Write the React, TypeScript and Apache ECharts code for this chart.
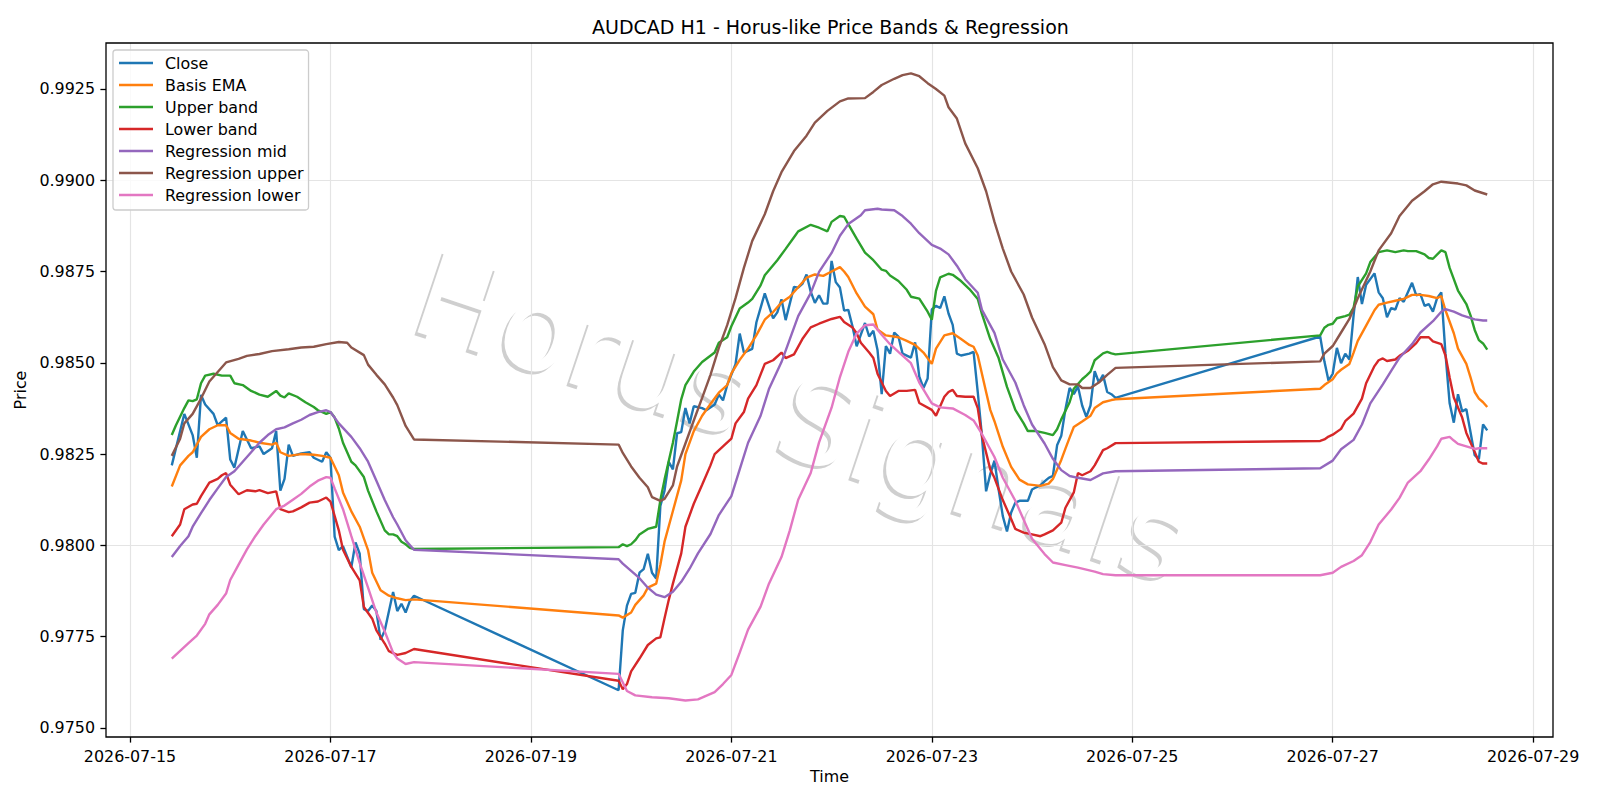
import React, { useEffect, useRef } from "react";
import * as echarts from "echarts";

// hours since 2026-07-15 00:00 (UTC)
const START_UTC = Date.UTC(2026, 6, 15);
const xTickHours = [0, 48, 96, 144, 192, 240, 288, 336];
const yTicks = [0.975, 0.9775, 0.98, 0.9825, 0.985, 0.9875, 0.99, 0.9925];

const closeH = [10,13,15,16,17,18,20,21,23,24,25,27,29,31,32,34,35,36,37,38,39,41,43,44,46,47,48,49,50,51,53,54,55,56,57,58,59,60,61,63,64,65,66,67,68,
  117,118,119,120,121,122,123,124,125,126,127,128,129,130,131,132,133,134,135,137,138,140,141,142,143,145,146,147,149,150,152,154,155,156,157,159,160,161,162,163,164,165,166,167,168,169,170,171,172,173,174,176,177,178,179,180,181,182,183,184,185,187,188,189,190,191,192,193,194,195,196,197,198,199,201,202,203,204,205,206,207,208,209,210,211,212,213,215,216,217,218,219,220,221,222,223,224,225,226,227,228,229,230,231,232,233,234,235,236,
  285,286,287,288,289,290,291,292,293,294,295,296,298,299,300,301,302,303,304,305,307,308,309,310,311,312,313,314,315,316,317,318,319,320,321,322,323,324,325];
const closeV = [0.98219,0.9836,0.98302,0.9824,0.98412,0.98386,0.9836,0.98329,0.9835,0.98235,0.98213,0.98313,0.98266,0.98271,0.9825,0.98266,0.98313,0.9815,0.98182,0.98276,0.98245,0.98252,0.98255,0.9824,0.98229,0.98255,0.9824,0.98024,0.97987,0.97998,0.9794,0.98008,0.97977,0.97825,0.9782,0.97835,0.9782,0.97741,0.97767,0.97872,0.9782,0.9784,0.97816,0.97847,0.97862,
  0.97603,0.97767,0.97835,0.97867,0.9787,0.97925,0.97935,0.97977,0.97925,0.97909,0.98108,0.9815,0.98229,0.98208,0.98307,0.9831,0.98376,0.98334,0.98381,0.98376,0.9837,0.98386,0.98413,0.98397,0.98439,0.98496,0.9858,0.98528,0.98538,0.98611,0.9869,0.98622,0.98638,0.98674,0.98617,0.98708,0.98706,0.98716,0.98742,0.98695,0.98664,0.98685,0.98662,0.98662,0.98779,0.98721,0.98706,0.98643,0.98645,0.986,0.98545,0.98609,0.98572,0.98588,0.98535,0.98414,0.98546,0.98525,0.98583,0.98572,0.98525,0.98514,0.98556,0.98462,0.98431,0.98457,0.98646,0.98656,0.9865,0.98682,0.98635,0.98604,0.98525,0.9852,0.98525,0.9853,0.9842,0.983,0.98148,0.98195,0.98232,0.98153,0.9808,0.98038,0.9809,0.98117,0.98122,0.98122,0.98153,0.98159,0.98164,0.98175,0.98185,0.9819,0.98274,0.983,0.98373,0.98431,0.98414,0.98435,0.98383,0.98352,0.98383,0.98477,0.98446,0.98467,0.9842,0.98414,0.98404,
  0.98572,0.98504,0.98451,0.9847,0.98541,0.98499,0.98525,0.98509,0.9863,0.98735,0.98661,0.98714,0.98745,0.98693,0.98677,0.98625,0.9865,0.98646,0.98677,0.98667,0.98719,0.98685,0.98688,0.98656,0.98661,0.9864,0.98677,0.98693,0.98525,0.98389,0.98336,0.98414,0.98367,0.98373,0.9831,0.98247,0.98236,0.98331,0.98315];

const emaH = [10,12,14,15,17,19,21,23,24,26,29,31,34,35,36,38,41,44,46,48,50,51,53,55,57,58,60,62,64,66,68,
  117,118,120,121,123,124,126,127,128,130,132,133,135,137,139,141,143,144,146,148,150,152,154,156,158,160,162,164,166,168,170,171,172,174,176,178,179,181,184,186,188,190,192,193,195,197,199,201,202,203,204,205,206,207,209,211,213,215,218,220,221,223,224,225,226,228,230,231,233,235,236,
  285,286,288,289,290,292,293,294,296,298,299,301,303,305,307,309,311,313,314,315,317,318,320,321,322,323,324,325];
const emaV = [0.98161,0.98219,0.98245,0.98255,0.98297,0.98318,0.98329,0.98329,0.98308,0.98292,0.98287,0.98281,0.98276,0.98281,0.98255,0.98245,0.9825,0.98248,0.98245,0.9824,0.98192,0.98145,0.98093,0.98051,0.97987,0.97925,0.97877,0.97862,0.97855,0.9785,0.97852,
  0.97808,0.97802,0.97816,0.97837,0.97863,0.97884,0.97895,0.97947,0.9801,0.98094,0.98178,0.9825,0.98313,0.98355,0.98387,0.98418,0.98439,0.98471,0.98508,0.98539,0.98576,0.98618,0.98639,0.98665,0.98681,0.98707,0.98733,0.98742,0.98738,0.9875,0.98762,0.9875,0.98735,0.9869,0.98654,0.98633,0.98591,0.98575,0.9857,0.9856,0.98549,0.98528,0.98497,0.98539,0.98575,0.98581,0.98565,0.98549,0.98544,0.9852,0.9847,0.9842,0.98371,0.9834,0.9827,0.98215,0.9818,0.98167,0.98163,0.98169,0.98182,0.98234,0.98265,0.98295,0.98324,0.98339,0.98355,0.98376,0.98392,0.98398,0.984,
  0.98429,0.98439,0.98455,0.98471,0.98481,0.98497,0.98528,0.9856,0.98602,0.98644,0.98659,0.98665,0.9867,0.98675,0.98686,0.98686,0.98683,0.98677,0.98683,0.98644,0.98581,0.98539,0.98497,0.9846,0.9842,0.98402,0.98392,0.98379];

const upperH = [10,11,13,14,15,16,17,18,20,22,24,25,27,29,31,33,35,36,37,38,40,42,44,45,47,48,49,50,51,53,54,56,57,59,61,62,63,64,65,66,67,68,
  117,118,119,120,121,122,124,126,127,128,130,131,132,133,135,137,140,141,143,144,146,148,149,151,152,155,157,159,160,163,165,167,168,170,171,172,174,176,178,180,181,182,184,186,187,189,191,192,193,194,196,197,199,201,203,204,206,208,210,212,214,215,217,219,221,222,223,225,226,228,229,230,231,233,234,235,236,
  285,286,287,288,289,291,292,293,294,296,297,299,301,303,305,306,308,310,311,312,314,315,316,317,318,320,321,322,323,324,325];
const upperV = [0.98302,0.98329,0.98376,0.98397,0.98395,0.984,0.98444,0.98465,0.9847,0.98465,0.98465,0.98444,0.98439,0.98423,0.98413,0.98407,0.98423,0.9841,0.98405,0.98416,0.98407,0.98392,0.98379,0.9837,0.9836,0.98365,0.9835,0.9832,0.98281,0.98229,0.98219,0.98187,0.9815,0.98093,0.98041,0.9803,0.9803,0.98025,0.9801,0.98003,0.97993,0.9799,
  0.97995,0.98003,0.97998,0.98003,0.98014,0.9803,0.98045,0.98051,0.98124,0.9818,0.98281,0.9834,0.984,0.98439,0.98476,0.98502,0.98528,0.98555,0.9857,0.986,0.98649,0.98665,0.98675,0.98712,0.9874,0.98781,0.98812,0.98844,0.9886,0.98878,0.9887,0.9886,0.98886,0.98902,0.989,0.9888,0.9884,0.98802,0.98781,0.98755,0.98752,0.98739,0.98724,0.987,0.98681,0.98676,0.9864,0.98618,0.98697,0.98734,0.98744,0.98741,0.98724,0.98702,0.98675,0.98634,0.98565,0.98513,0.98434,0.98371,0.98334,0.98313,0.98313,0.98308,0.98302,0.98318,0.98345,0.98392,0.98429,0.98455,0.98465,0.98476,0.98507,0.98526,0.9853,0.98526,0.98523,
  0.98575,0.98596,0.98604,0.98607,0.98622,0.98628,0.98632,0.98651,0.98709,0.98745,0.98776,0.98803,0.98808,0.98803,0.98808,0.98806,0.98806,0.98797,0.98787,0.98785,0.98808,0.98803,0.9876,0.98729,0.98698,0.98661,0.9863,0.9859,0.98562,0.98553,0.98536];

const lowerH = [10,12,13,15,16,17,19,21,22,23,24,26,28,30,31,33,35,36,38,39,41,43,45,47,48,50,51,53,55,56,58,59,61,62,63,64,66,68,
  117,118,119,120,122,124,126,127,128,129,130,132,133,135,137,139,140,142,144,145,147,148,150,152,154,156,157,159,161,163,165,168,170,171,173,174,175,177,178,179,181,182,184,186,188,189,192,193,195,196,197,198,200,202,203,204,206,207,209,211,212,214,216,218,219,221,223,224,226,227,228,230,231,233,234,236,
  285,286,287,288,290,291,293,295,296,298,299,300,301,303,304,306,308,309,311,312,314,315,316,317,319,320,322,323,324,325];
const lowerV = [0.98025,0.98057,0.98099,0.98112,0.98114,0.98135,0.98172,0.98182,0.98192,0.98198,0.98166,0.9814,0.98151,0.98148,0.98151,0.98143,0.98148,0.98099,0.98091,0.98093,0.98104,0.98117,0.9812,0.98131,0.9812,0.98041,0.97988,0.97941,0.97904,0.97831,0.97799,0.97767,0.97731,0.9771,0.97705,0.977,0.97705,0.97716,
  0.97629,0.97606,0.9762,0.97655,0.9769,0.97727,0.97745,0.97748,0.978,0.9785,0.97895,0.97978,0.98051,0.98114,0.98166,0.98219,0.9825,0.98271,0.98292,0.98334,0.98365,0.98402,0.98439,0.98497,0.98507,0.98528,0.98513,0.98523,0.98565,0.98597,0.98607,0.9862,0.98626,0.98612,0.98597,0.98581,0.98555,0.98528,0.98513,0.9847,0.98423,0.98409,0.98423,0.98423,0.98426,0.9839,0.98371,0.98355,0.98407,0.9842,0.98426,0.98409,0.98407,0.98407,0.98376,0.983,0.98208,0.98185,0.98124,0.98072,0.98045,0.98035,0.9803,0.98025,0.9803,0.98041,0.98062,0.98103,0.98145,0.98198,0.98192,0.98203,0.98219,0.98261,0.98266,0.9828,
  0.98286,0.9829,0.98298,0.98303,0.98319,0.9834,0.98361,0.98402,0.98444,0.98491,0.98507,0.98512,0.98505,0.98509,0.98519,0.98533,0.98554,0.9857,0.9857,0.98559,0.98551,0.9852,0.9846,0.98405,0.9835,0.98308,0.98256,0.98229,0.98224,0.98224];

const regMidH = [10,12,14,15,17,19,21,23,25,27,29,31,33,35,37,39,41,43,45,47,48,50,53,55,57,59,61,63,64,66,68,
  117,118,120,122,124,126,128,130,132,134,136,139,141,144,146,148,151,153,156,158,160,163,165,168,170,172,175,176,179,180,183,185,187,189,192,194,196,198,200,203,204,207,209,212,214,216,219,221,223,225,227,230,233,236,
  285,288,290,293,295,297,300,302,304,307,309,312,314,315,317,319,322,324,325];
const regMidV = [0.97968,0.97998,0.98025,0.98051,0.98088,0.98124,0.98156,0.98187,0.98203,0.98229,0.98255,0.98281,0.98302,0.98318,0.98323,0.98334,0.98344,0.98357,0.98365,0.9837,0.98365,0.98334,0.98297,0.98266,0.98229,0.98177,0.98124,0.98077,0.98057,0.98014,0.97988,
  0.97962,0.9795,0.9793,0.9791,0.97884,0.97865,0.97858,0.97873,0.979,0.97936,0.97978,0.98031,0.98083,0.98135,0.98208,0.98281,0.98355,0.98428,0.98502,0.98565,0.98628,0.98691,0.98749,0.98801,0.98848,0.9888,0.98904,0.98918,0.98922,0.9892,0.98918,0.98902,0.98881,0.98855,0.98823,0.98813,0.98797,0.98766,0.98729,0.98692,0.98645,0.98582,0.98509,0.98446,0.98384,0.98331,0.98279,0.98237,0.98206,0.9819,0.98185,0.98179,0.98197,0.98203,
  0.98211,0.98232,0.98263,0.98289,0.98331,0.98389,0.98441,0.98478,0.98514,0.98551,0.98583,0.98614,0.9864,0.98647,0.9864,0.9863,0.98619,0.98616,0.98616];

const regUpH = [10,12,13,15,17,19,21,23,26,28,31,34,38,41,44,47,50,52,53,56,57,59,61,63,64,66,68,
  117,118,120,122,124,125,127,128,130,131,133,135,137,139,141,143,145,147,149,152,154,156,159,162,164,167,170,172,176,178,180,183,185,187,189,191,193,195,196,198,200,203,205,207,209,211,214,216,219,221,223,225,227,228,230,232,234,236,
  285,286,288,290,292,294,297,299,302,304,307,310,312,314,318,320,322,325];
const regUpV = [0.98245,0.98292,0.98334,0.9836,0.98402,0.98449,0.98475,0.98501,0.98511,0.98519,0.98524,0.98532,0.98537,0.98542,0.98544,0.98551,0.98557,0.98555,0.98542,0.98521,0.98495,0.98467,0.98441,0.98405,0.98384,0.98327,0.9829,
  0.98276,0.98253,0.98216,0.98185,0.98159,0.98132,0.98122,0.98127,0.98164,0.98216,0.98279,0.98342,0.98404,0.98467,0.98541,0.98603,0.98677,0.9876,0.98834,0.98907,0.9897,0.99022,0.9908,0.99122,0.99158,0.9919,0.99216,0.99224,0.99225,0.99242,0.99261,0.99278,0.99288,0.99293,0.99285,0.99266,0.9925,0.99232,0.992,0.99169,0.99101,0.99033,0.9897,0.98886,0.98813,0.9875,0.98687,0.98624,0.98551,0.98488,0.98452,0.98441,0.98441,0.98431,0.98431,0.98446,0.98467,0.98486,
  0.98504,0.98525,0.98546,0.98583,0.9862,0.98677,0.9875,0.98808,0.98855,0.98902,0.98944,0.9897,0.98989,0.98996,0.98991,0.98986,0.98972,0.98961];

const regLowH = [10,12,14,16,18,19,21,23,24,26,28,30,32,35,37,39,41,43,45,47,48,49,51,53,55,57,59,61,63,64,66,68,
  117,119,121,125,129,133,136,140,142,144,146,148,151,153,156,158,160,163,165,168,170,172,174,176,178,180,182,184,187,189,192,194,197,200,202,204,207,209,212,214,216,219,221,224,227,231,233,236,
  285,288,290,293,295,297,299,302,304,306,309,311,313,314,316,317,318,320,322,323,325];
const regLowV = [0.9769,0.97711,0.97732,0.97753,0.97785,0.97811,0.97837,0.97868,0.97905,0.97947,0.97989,0.98025,0.98057,0.98099,0.98109,0.98125,0.98141,0.98161,0.98177,0.98187,0.98185,0.98156,0.98099,0.98025,0.97952,0.97884,0.97816,0.97764,0.97706,0.9769,0.97675,0.9768,
  0.97648,0.97601,0.97589,0.97584,0.97581,0.97575,0.97578,0.97598,0.9762,0.97645,0.97706,0.97769,0.97832,0.97895,0.97968,0.98041,0.98125,0.98198,0.98282,0.98377,0.98461,0.9853,0.9858,0.98603,0.98605,0.98577,0.98551,0.9853,0.98499,0.98446,0.98389,0.98378,0.98375,0.98357,0.98342,0.98305,0.98242,0.98185,0.98122,0.9807,0.98018,0.97976,0.97953,0.97946,0.97939,0.97928,0.97921,0.97918,
  0.97918,0.97925,0.97941,0.97957,0.97973,0.98009,0.98057,0.98098,0.9813,0.98172,0.98203,0.98235,0.98271,0.98292,0.98297,0.98287,0.98278,0.98271,0.98264,0.98266,0.98266];

const seriesNames = ["Close", "Basis EMA", "Upper band", "Lower band", "Regression mid", "Regression upper", "Regression lower"];
const seriesColors = ["#1f77b4", "#ff7f0e", "#2ca02c", "#d62728", "#9467bd", "#8c564b", "#e377c2"];
const seriesHours = [closeH, emaH, upperH, lowerH, regMidH, regUpH, regLowH];
const seriesValues = [closeV, emaV, upperV, lowerV, regMidV, regUpV, regLowV];

const FONT = "DejaVu Sans";
const WATERMARK = "Horus Signals";

function zip(h: number[], v: number[]) {
  return h.map((x, i) => [x, v[i]]);
}

function hourLabel(h: number) {
  return new Date(START_UTC + h * 3600000).toISOString().slice(0, 10);
}

export default function App() {
  const ref = useRef<HTMLDivElement>(null);
  useEffect(() => {
    if (!ref.current) return;
    const chart = echarts.init(ref.current, undefined, { renderer: "svg" });
    const lineSeries = seriesNames.map((name, i) => ({
      name,
      type: "line",
      data: zip(seriesHours[i], seriesValues[i]),
      showSymbol: false,
      symbol: "none",
      z: 3,
      lineStyle: { color: seriesColors[i], width: 2.4 },
      itemStyle: { color: seriesColors[i] },
    }));
    const gridSeries = {
      name: "_grid",
      type: "line",
      data: [],
      z: 1,
      markLine: {
        silent: true,
        z: 1,
        symbol: ["none", "none"],
        label: { show: false },
        lineStyle: { color: "#e4e4e4", width: 1.2, type: "solid" },
        emphasis: { disabled: true },
        data: [
          ...xTickHours.map((h) => ({ xAxis: h })),
          ...yTicks.map((v) => ({ yAxis: v })),
        ],
      },
    };
    const rot = (-18.5 * Math.PI) / 180;
    const wmFont = `normal 118px "${FONT}"`;
    chart.setOption({
      animation: false,
      backgroundColor: "#ffffff",
      title: {
        text: "AUDCAD H1 - Horus-like Price Bands & Regression",
        left: 592,
        top: 17,
        padding: 0,
        textStyle: { fontFamily: FONT, fontSize: 19, fontWeight: "normal", color: "#000", lineHeight: 19 },
      },
      legend: {
        data: seriesNames,
        orient: "vertical",
        left: 113,
        top: 50,
        padding: [4, 5, 6, 6],
        itemGap: 4,
        itemWidth: 34,
        itemHeight: 2.4,
        icon: "rect",
        backgroundColor: "rgba(255,255,255,0.8)",
        borderColor: "#cccccc",
        borderWidth: 1.3,
        borderRadius: 3,
        textStyle: { fontFamily: FONT, fontSize: 15.9, color: "#000", lineHeight: 18, padding: [0, 0, 0, 7] },
        z: 10,
      },
      graphic: [
        {
          type: "text",
          x: 799,
          y: 421,
          rotation: rot,
          z: 0,
          silent: true,
          style: { text: WATERMARK, font: wmFont, fill: "#cfcfcf", align: "center", verticalAlign: "middle" },
        },
        {
          type: "text",
          x: 802,
          y: 418,
          rotation: rot,
          z: 0,
          silent: true,
          style: { text: WATERMARK, font: wmFont, fill: "#ffffff", align: "center", verticalAlign: "middle" },
        },
      ],
      grid: {
        left: 106,
        right: 47,
        top: 43,
        bottom: 63,
        show: true,
        borderColor: "#000",
        borderWidth: 1.3,
        backgroundColor: "transparent",
        z: 5,
      },
      xAxis: {
        type: "value",
        min: -5.75,
        max: 340.75,
        name: "Time",
        nameLocation: "middle",
        nameGap: 26,
        nameTextStyle: { fontFamily: FONT, fontSize: 15.9, color: "#000", lineHeight: 16 },
        axisLine: { show: false, onZero: false },
        splitLine: { show: false },
        axisTick: { show: true, customValues: xTickHours, length: 5.6, lineStyle: { color: "#000", width: 1.3 } },
        axisLabel: {
          customValues: xTickHours,
          margin: 11,
          fontFamily: FONT,
          fontSize: 15.9,
          color: "#000",
          formatter: (v: number) => hourLabel(v),
        },
      },
      yAxis: {
        type: "value",
        min: 0.97475,
        max: 0.99376,
        name: "Price",
        nameLocation: "middle",
        nameGap: 72,
        nameTextStyle: { fontFamily: FONT, fontSize: 15.9, color: "#000", lineHeight: 16 },
        axisLine: { show: false, onZero: false },
        splitLine: { show: false },
        axisTick: { show: true, customValues: yTicks, length: 5.6, lineStyle: { color: "#000", width: 1.3 } },
        axisLabel: {
          customValues: yTicks,
          margin: 11,
          fontFamily: FONT,
          fontSize: 15.9,
          color: "#000",
          formatter: (v: number) => v.toFixed(4),
        },
      },
      series: [gridSeries, ...lineSeries],
    });
    return () => chart.dispose();
  }, []);
  return (
    <div
      ref={ref}
      style={{ position: "fixed", left: 0, top: 0, width: 1600, height: 800, background: "#fff" }}
    />
  );
}
